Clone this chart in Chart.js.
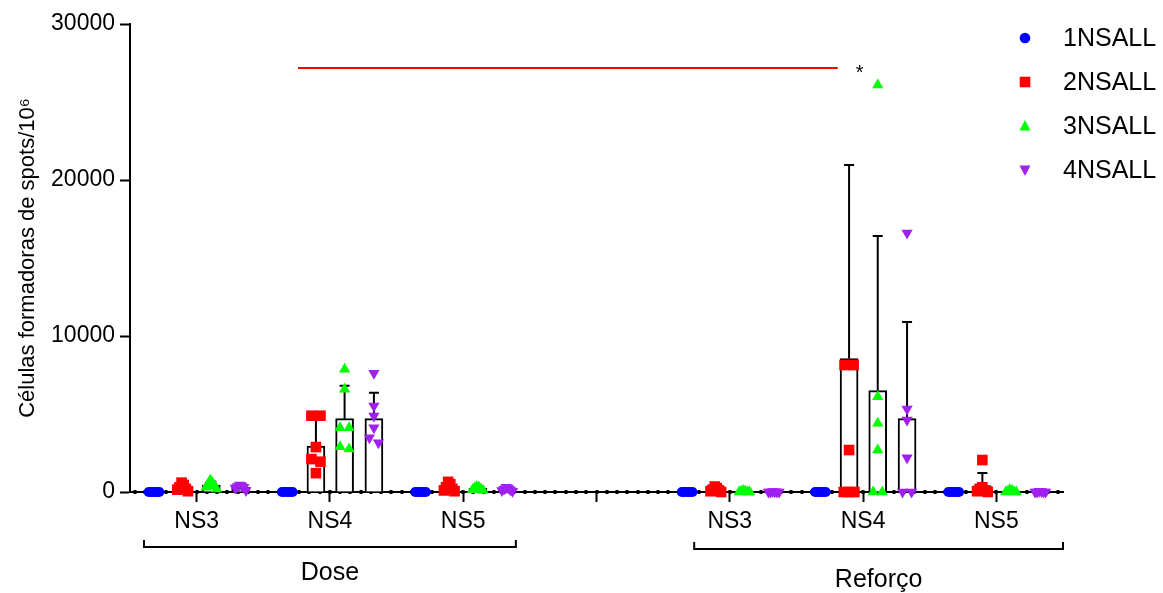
<!DOCTYPE html>
<html>
<head>
<meta charset="utf-8">
<script src="https://cdn.jsdelivr.net/npm/chart.js@4"></script>
<style>
  html, body { margin: 0; padding: 0; background: #fff; }
  #wrap { width: 1163px; height: 593px; }
</style>
</head>
<body>
<div id="wrap"><canvas id="chart" width="1163" height="593"></canvas></div>
<script>
const groupLabels = ['NS3', 'NS4', 'NS5', '', 'NS3', 'NS4', 'NS5'];
const seriesNames = ['1NSALL', '2NSALL', '3NSALL', '4NSALL'];
const seriesColors = ['#0000ff', '#ff0000', '#00ff00', '#a020f0'];

// individual values per group (middle slot is empty)
const pts1 = [[0, 0, 0, 0, 0, 0], [0, 0, 0, 0, 0, 0], [0, 0, 0, 0, 0, 0], [], [0, 0, 0, 0, 0, 0], [0, 0, 0, 0, 0, 0], [0, 0, 0, 0, 0, 0]];
const pts2 = [[600, 450, 300, 200, 150, 50], [4890, 4890, 2880, 2110, 1940, 1210], [650, 500, 300, 200, 100, 50], [], [350, 250, 150, 100, 50, 0], [8140, 8140, 2690, 0, 0, 0], [2050, 300, 200, 100, 50, 0]];
const pts3 = [[750, 600, 450, 400, 300, 200], [7870, 6580, 4120, 4120, 2900, 2760], [350, 300, 250, 200, 150, 100], [], [100, 50, 50, 0, 0, 0], [26090, 6110, 4400, 2690, 0, 0], [150, 100, 50, 0, 0, 0]];
const pts4 = [[450, 400, 350, 300, 250, 100], [7610, 5510, 4870, 4120, 3480, 3160], [300, 250, 200, 150, 100, 50], [], [30, 20, 0, 0, 0, 0], [16600, 5320, 4620, 2200, 0, 0], [50, 30, 0, 0, 0, 0]];

// bar height (mean) and error bar (SD, drawn upward only)
const mean1 = [0, 0, 0, null, 0, 0, 0];
const mean2 = [270, 2950, 300, null, 150, 8550, 400];
const mean3 = [450, 4700, 230, null, 30, 6500, 50];
const mean4 = [310, 4700, 170, null, 10, 4700, 15];
const sd1 = [0, 0, 0, null, 0, 0, 0];
const sd2 = [200, 1950, 230, null, 130, 12410, 820];
const sd3 = [200, 2110, 90, null, 40, 9910, 60];
const sd4 = [130, 1670, 95, null, 12, 6200, 20];

// significance line: Dose NS4 -> Reforço NS4
const sigValue = 27180;
const sigSpan = [0.76, 4.81];

const allPts = [pts1, pts2, pts3, pts4];
const allMeans = [mean1, mean2, mean3, mean4];
const allSds = [sd1, sd2, sd3, sd4];
const seriesOffset = [-0.32, -0.105, 0.11, 0.33];
const pointStyles = ['circle', 'rect', 'triangle', 'triangle'];
const pointRot = [0, 0, 0, 180];
const pointRad = [5, 7.5, 6.5, 6.5];
const FONT = 'Liberation Sans, Arial, Helvetica, sans-serif';

// spread runs of close values sideways, alternating left/right of the column centre
function spread(vals) {
  const offs = new Array(vals.length).fill(0);
  let start = 0;
  for (let i = 1; i <= vals.length; i++) {
    if (i === vals.length || Math.abs(vals[i] - vals[i - 1]) >= 450) {
      const n = i - start;
      if (n > 1) {
        const step = Math.min(0.068, 0.08 / (n - 1));
        const slots = [];
        for (let j = 0; j < n; j++) slots.push((j - (n - 1) / 2) * step);
        // centre-out order so the cluster stays compact
        slots.sort((a, b) => Math.abs(a) - Math.abs(b) || a - b);
        for (let j = 0; j < n; j++) offs[start + j] = slots[j];
      }
      start = i;
    }
  }
  return offs;
}

const datasets = [];
seriesNames.forEach((name, s) => {
  datasets.push({
    type: 'bar',
    label: name + ' bar',
    data: allMeans[s].map((m, g) => m === null ? null : { x: g + seriesOffset[s], y: m, sd: allSds[s][g] }).filter(d => d),
    backgroundColor: '#ffffff',
    borderColor: '#000000',
    borderWidth: 2,
    borderSkipped: 'start',
    barThickness: 18,
    grouped: false,
    order: 3
  });
});
datasets.push({
  type: 'line',
  label: 'sig',
  data: [{ x: sigSpan[0], y: sigValue }, { x: sigSpan[1], y: sigValue }],
  borderColor: '#ff0000',
  borderWidth: 2,
  pointRadius: 0,
  order: 2
});
seriesNames.forEach((name, s) => {
  const data = [];
  allPts[s].forEach((vals, g) => {
    const offs = spread(vals);
    vals.forEach((v, i) => data.push({ x: g + seriesOffset[s] + offs[i], y: v }));
  });
  datasets.push({
    type: 'scatter',
    label: name,
    data: data,
    pointStyle: pointStyles[s],
    rotation: pointRot[s],
    pointRadius: pointRad[s],
    backgroundColor: seriesColors[s],
    borderColor: seriesColors[s],
    borderWidth: 0,
    clip: false,
    order: 1
  });
});

// upward SD whiskers on the bars
const errorBars = {
  id: 'errorBars',
  afterDatasetDraw(chart, args) {
    const meta = args.meta;
    if (meta.type !== 'bar') return;
    const ctx = chart.ctx, y = chart.scales.y;
    ctx.save();
    ctx.strokeStyle = '#000';
    ctx.lineWidth = 2;
    meta.data.forEach((bar, i) => {
      const d = chart.data.datasets[args.index].data[i];
      if (!d.sd) return;
      const top = y.getPixelForValue(d.y + d.sd);
      ctx.beginPath();
      ctx.moveTo(bar.x, bar.y);
      ctx.lineTo(bar.x, top);
      ctx.moveTo(bar.x - 5, top);
      ctx.lineTo(bar.x + 5, top);
      ctx.stroke();
    });
    ctx.restore();
  }
};

// small dots along the x axis, brackets, asterisk and legend
const axisExtras = {
  id: 'axisExtras',
  beforeDatasetsDraw(chart) {
    const ctx = chart.ctx, x = chart.scales.x, area = chart.chartArea;
    ctx.save();
    ctx.fillStyle = '#000';
    for (let m = -6; m <= 84; m++) {
      const px = x.getPixelForValue(m / 13);
      ctx.fillRect(Math.round(px) - 1.5, area.bottom - 2, 3, 4);
    }
    ctx.restore();
  },
  afterDraw(chart) {
    const ctx = chart.ctx, x = chart.scales.x, y = chart.scales.y;
    ctx.save();
    ctx.strokeStyle = '#000';
    ctx.lineWidth = 2;
    ctx.fillStyle = '#000';
    const brackets = [
      { text: 'Dose', from: -0.395, to: 2.395, lineY: 547, textY: 580 },
      { text: 'Reforço', from: 3.733, to: 6.5, lineY: 549, textY: 587 }
    ];
    brackets.forEach(b => {
      const x0 = x.getPixelForValue(b.from), x1 = x.getPixelForValue(b.to);
      ctx.beginPath();
      ctx.moveTo(x0, b.lineY - 7);
      ctx.lineTo(x0, b.lineY);
      ctx.lineTo(x1, b.lineY);
      ctx.lineTo(x1, b.lineY - 7);
      ctx.stroke();
      ctx.font = '25px ' + FONT;
      ctx.textAlign = 'center';
      ctx.textBaseline = 'alphabetic';
      ctx.fillText(b.text, (x0 + x1) / 2, b.textY);
    });
    // asterisk at the end of the significance line
    ctx.font = '20px ' + FONT;
    ctx.textAlign = 'center';
    ctx.textBaseline = 'alphabetic';
    ctx.fillText('*', x.getPixelForValue(4.975), y.getPixelForValue(sigValue) + 11);

    // legend on the right
    seriesNames.forEach((name, s) => {
      const ly = 38 + s * 44, lx = 1025;
      ctx.fillStyle = seriesColors[s];
      ctx.beginPath();
      if (s === 0) {
        ctx.arc(lx, ly, 5.3, 0, Math.PI * 2);
      } else if (s === 1) {
        ctx.rect(lx - 5.3, ly - 5.3, 10.6, 10.6);
      } else if (s === 2) {
        ctx.moveTo(lx, ly - 6); ctx.lineTo(lx + 5.5, ly + 4.5); ctx.lineTo(lx - 5.5, ly + 4.5);
      } else {
        ctx.moveTo(lx, ly + 6); ctx.lineTo(lx + 5.5, ly - 4.5); ctx.lineTo(lx - 5.5, ly - 4.5);
      }
      ctx.closePath();
      ctx.fill();
      ctx.fillStyle = '#000';
      ctx.font = '25px ' + FONT;
      ctx.textAlign = 'left';
      ctx.textBaseline = 'middle';
      ctx.fillText(name, 1063, ly + 1);
    });
    ctx.restore();
  }
};

new Chart(document.getElementById('chart'), {
  type: 'bar',
  data: { datasets: datasets },
  options: {
    responsive: false,
    animation: false,
    layout: { padding: { left: 0, top: 24, right: 100, bottom: 0 } },
    plugins: {
      legend: { display: false },
      tooltip: { enabled: false }
    },
    scales: {
      x: {
        type: 'linear',
        min: -0.5,
        max: 6.5,
        offset: false,
        afterBuildTicks: scale => { scale.ticks = groupLabels.map((_, i) => ({ value: i })); },
        afterFit: scale => { scale.height = 101; },
        ticks: {
          autoSkip: false,
          maxRotation: 0,
          padding: 6,
          color: '#000',
          font: { family: FONT, size: 23 },
          callback: v => groupLabels[Math.round(v)]
        },
        grid: { offset: false, drawOnChartArea: false, tickLength: 10, tickWidth: 2, tickColor: '#000' },
        border: { color: '#000', width: 2 }
      },
      y: {
        min: 0,
        max: 30000,
        afterFit: scale => { scale.width = 130; },
        ticks: {
          stepSize: 10000,
          padding: 5,
          color: '#000',
          font: { family: FONT, size: 23 },
          callback: v => String(v)
        },
        title: {
          display: true,
          text: 'Células formadoras de spots/10⁶',
          color: '#000',
          font: { family: FONT, size: 22 },
          padding: { top: 15, bottom: 0 }
        },
        grid: { drawOnChartArea: false, tickLength: 10, tickWidth: 2, tickColor: '#000' },
        border: { color: '#000', width: 2 }
      }
    }
  },
  plugins: [errorBars, axisExtras]
});
</script>
</body>
</html>
